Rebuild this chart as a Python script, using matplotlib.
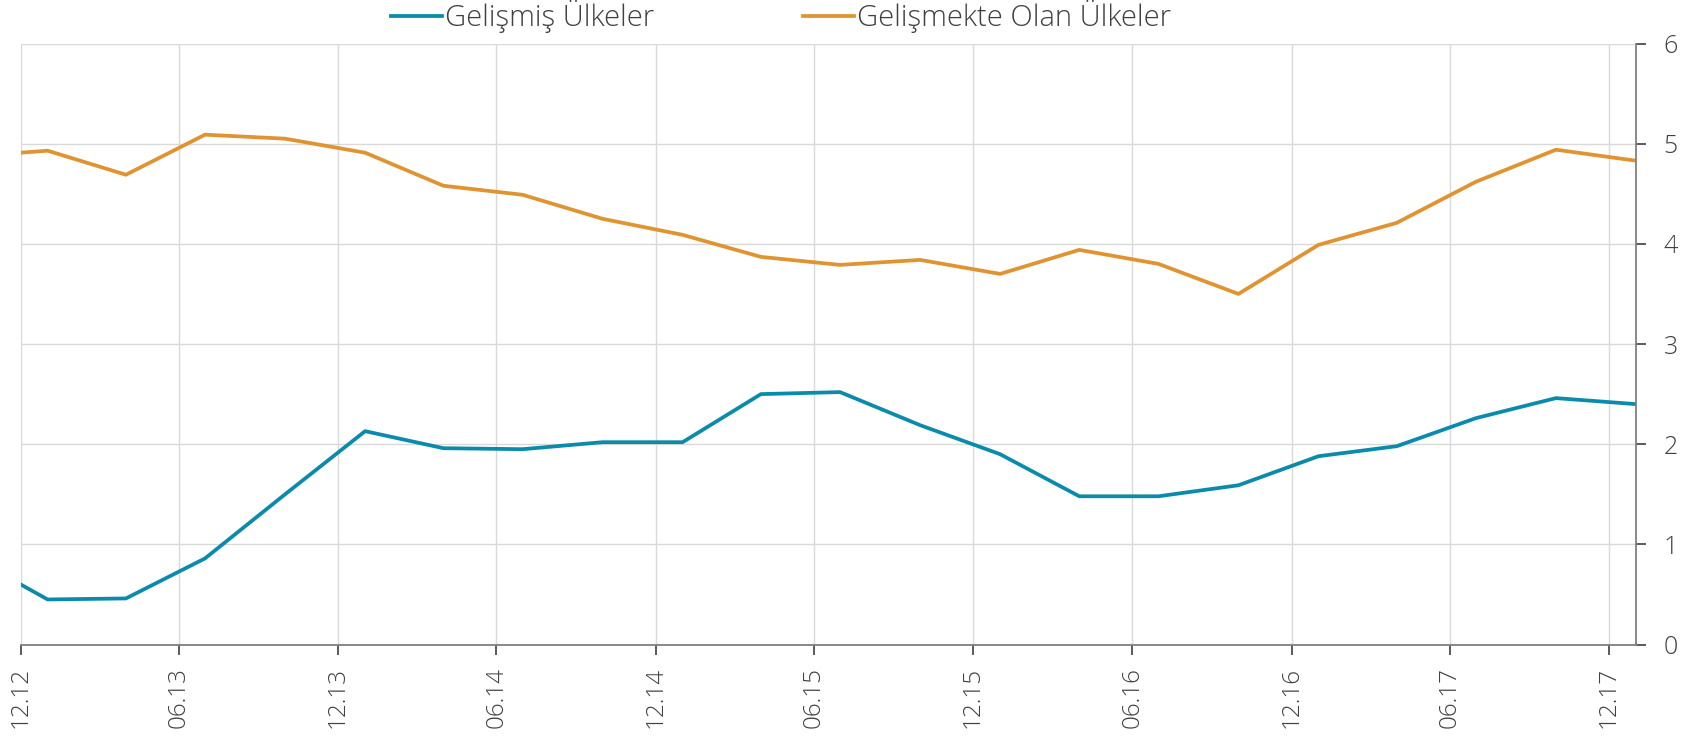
import pandas as pd
import matplotlib
matplotlib.use("Agg")
import matplotlib.pyplot as plt
import matplotlib.dates as mdates

# quarterly observations (first value is where the line meets the left edge)
dates = ["2012-12", "2013-01", "2013-04", "2013-07", "2013-10", "2014-01", "2014-04",
         "2014-07", "2014-10", "2015-01", "2015-04", "2015-07", "2015-10", "2016-01",
         "2016-04", "2016-07", "2016-10", "2017-01", "2017-04", "2017-07", "2017-10",
         "2018-01"]
gelismis = [0.60, 0.45, 0.46, 0.86, 1.50, 2.13, 1.96, 1.95, 2.02, 2.02, 2.50, 2.52,
            2.19, 1.90, 1.48, 1.48, 1.59, 1.88, 1.98, 2.26, 2.46, 2.40]
gelismekte = [4.91, 4.93, 4.69, 5.09, 5.05, 4.91, 4.58, 4.49, 4.25, 4.09, 3.87, 3.79,
              3.84, 3.70, 3.94, 3.80, 3.50, 3.99, 4.21, 4.62, 4.94, 4.83]
series_names = ["Gelişmiş Ülkeler", "Gelişmekte Olan Ülkeler"]

x = pd.to_datetime(dates, format="%Y-%m")

plt.rcParams["font.family"] = ["Open Sans", "DejaVu Sans"]
plt.rcParams["font.weight"] = "light"
text_col = "#404040"

fig = plt.figure(figsize=(17.07, 7.44), dpi=100)
ax = fig.add_axes([0.0121, 0.1337, 0.9463, 0.8078])

ax.plot(x, gelismis, color="#0a8bab", lw=2.7, label=series_names[0])
ax.plot(x, gelismekte, color="#e09331", lw=2.7, label=series_names[1])

ax.set_xlim(pd.Timestamp("2012-12-01"), pd.Timestamp("2018-01-01"))
ax.set_ylim(0, 6)
ax.set_yticks(range(0, 7))

ax.xaxis.set_major_locator(mdates.MonthLocator(bymonth=[6, 12]))
ax.xaxis.set_major_formatter(mdates.DateFormatter("%m.%y"))

ax.yaxis.tick_right()
ax.grid(True, color="#d9d9d9", lw=1.0)
ax.set_axisbelow(True)

for s in ["top", "left"]:
    ax.spines[s].set_visible(False)
for s in ["bottom", "right"]:
    ax.spines[s].set_color("#808080")
    ax.spines[s].set_linewidth(1.3)

ax.tick_params(axis="x", direction="out", length=7, width=1.2, color="#404040",
               labelsize=17.5, labelcolor=text_col, labelrotation=90, pad=9)
ax.tick_params(axis="y", direction="out", length=7, width=1.2, color="#404040",
               labelsize=18, labelcolor=text_col, pad=13)

leg = fig.legend(loc="center", bbox_to_anchor=(0.4573, 0.978), ncol=2,
                 frameon=False, fontsize=21, handlelength=1.75, handletextpad=0.1,
                 columnspacing=5.1, borderpad=0)
for t in leg.get_texts():
    t.set_color(text_col)

fig.savefig("out.png", dpi=100)
